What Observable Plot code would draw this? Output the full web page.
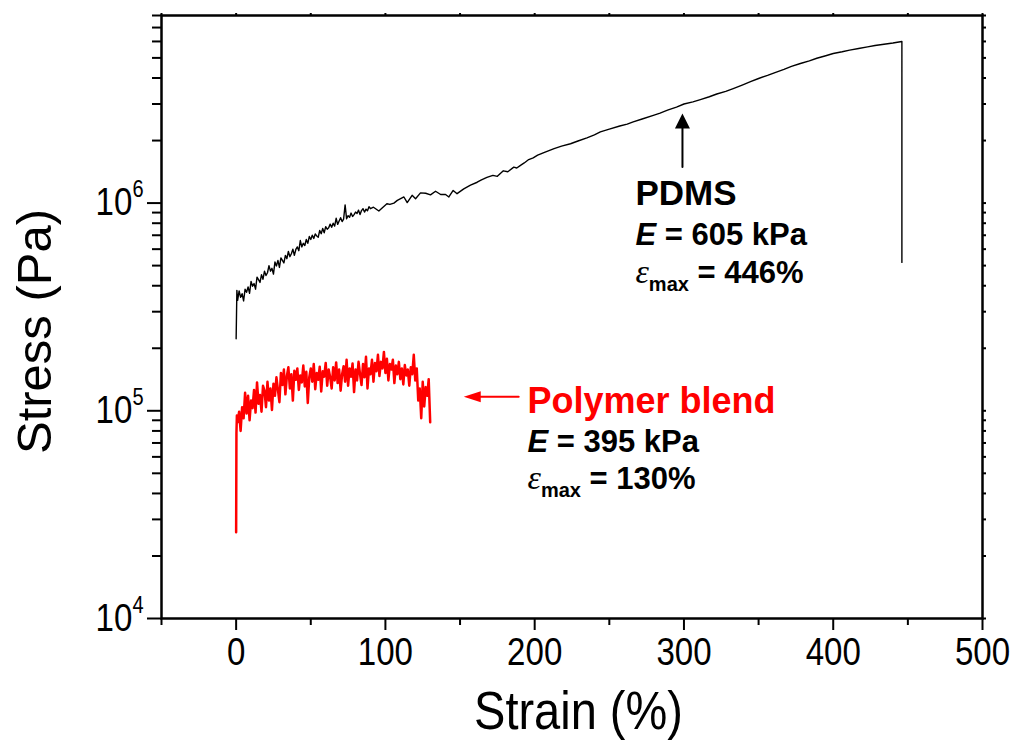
<!DOCTYPE html>
<html><head><meta charset="utf-8">
<script src="https://cdn.jsdelivr.net/npm/d3@7"></script>
<script src="https://cdn.jsdelivr.net/npm/@observablehq/plot@0.6"></script>
<style>body{margin:0;background:#fff;} svg{display:block}</style>
</head><body><div id="chart"></div>
<script>
// PDMS curve: [strain %, stress kPa]
const pdmsCurve = [
[0,222],[0.5,380],[1,340],[2,378],[3,352],[4,366],[5,338],[6,385],[7,372],[8,395],[9,368],[10,420],
[11,398],[12,410],[13,385],[14,440],[15,428],[16,415],[17,452],[18,430],[19,470],[20,448],
[21,462],[22,500],[23,470],[24,485],[25,455],[26,520],[27,498],[28,530],[29,490],[30,545],
[31,530],[32,515],[33,560],[34,540],[35,585],[36,552],[37,570],[38,600],[39,560],[40,598],
[41,615],[42,590],[43,660],[44,615],[45,640],[46,625],[47,668],[48,640],[49,690],[50,668],
[51,700],[52,676],[53,710],[54,695],[55,685],[56,738],[57,712],[58,755],[59,720],[60,770],
[61,748],[62,760],[63,792],[64,765],[65,800],[66,775],[67,845],[68,790],[69,820],[70,850],
[71,815],[72,838],[73,980],[74,840],[75,870],[76,855],[77,895],[78,862],[79,880],[80,905],
[81,890],[82,925],[83,880],[84,920],[85,940],[86,905],[87,935],[88,918],[89,960],[90,940],
[92,955],[95.6,916],[98,950],[101,993],[103,985],[105.7,1000],[108,1030],[112.4,1070],[114.6,1005],
[117.9,1090],[120.2,1050],[123.5,1120],[127,1115],[130.2,1095],[133.6,1140],[137,1100],[140.3,1100],
[142.5,1070],[145.4,1150],[148,1110],[152.5,1170],[157,1220],[161.5,1260],[164,1290],[168,1330],
[172,1360],[175,1345],[179,1430],[182,1415],[186,1490],[188,1475],[190.5,1520],[193,1560],[196,1620],
[199,1650],[202,1700],[207,1760],[213,1830],[218,1880],[224,1930],[229,1990],[235,2060],[240,2130],
[244,2200],[250,2270],[257,2350],[262,2400],[266,2460],[272,2540],[280,2650],[284,2710],[289,2800],
[295,2900],[300,3000],[306,3070],[311,3150],[317,3250],[322,3350],[328,3450],[333,3560],[339,3700],
[345,3850],[350,3980],[356,4120],[361,4250],[367,4400],[372,4550],[378,4700],[384,4840],[389,4980],
[395,5120],[400,5250],[406,5350],[411,5450],[417,5550],[423,5650],[428,5740],[434,5820],[440,5900],
[446,6000],[446,518]
];
// Polymer blend curve: [strain %, stress kPa]
const blendCurve = [
[0,26],[0.2,78],[0.5,95],
[1,88],[2,99],[3,80],[4,104],[5,92],[6,122],[7,97],[8,118],[9,90],[10,112],
[11,103],[12,126],[13,98],[14,137],[15,108],[16,119],[17,99],[18,132],[19,125],[20,104],
[21,138],[22,112],[23,128],[24,101],[25,135],[26,118],[27,145],[28,126],[29,110],[30,152],
[31,133],[32,158],[33,120],[34,147],[35,162],[36,128],[37,150],[38,112],[39,156],[40,141],
[41,160],[42,126],[43,148],[44,137],[45,165],[46,131],[47,154],[48,109],[49,145],[50,160],
[51,138],[52,168],[53,127],[54,152],[55,141],[56,163],[57,124],[58,155],[59,146],[60,170],
[61,132],[62,158],[63,145],[64,128],[65,162],[66,140],[67,171],[68,136],[69,158],[70,125],
[71,150],[72,164],[73,138],[74,176],[75,132],[76,160],[77,146],[78,169],[79,123],[80,158],
[81,140],[82,172],[83,150],[84,133],[85,168],[86,145],[87,182],[88,128],[89,160],[90,150],
[91,176],[92,138],[93,170],[94,155],[95,186],[96,147],[97,172],[98,160],[99,192],[100,152],
[101,178],[102,140],[103,168],[104,158],[105,176],[106,136],[107,165],[108,150],[109,172],[110,142],
[111,160],[112,134],[113,166],[114,148],[115,158],[116,132],[117,162],[118,150],[119,186],[120,140],
[121,160],[122,112],[123,128],[124,92],[125,138],[126,105],[127,130],[128,118],[129,142],[130,88]
];

const xMajorTicks = [0, 100, 200, 300, 400, 500];
const xMinorTicks = [-50, 50, 150, 250, 350, 450];
const yMajorTicks = [1e4, 1e5, 1e6];
const yMinorTicks = [2e4,3e4,4e4,5e4,6e4,7e4,8e4,9e4,2e5,3e5,4e5,5e5,6e5,7e5,8e5,9e5,2e6,3e6,4e6,5e6,6e6,7e6,8e6];
const xTitle = "Strain (%)";
const yTitle = "Stress (Pa)";

const pdmsNoteLines = ["PDMS", "E = 605 kPa", "ε_max = 446%"];
const pdmsNoteStrain = 267.5;
const pdmsNoteStress = [1.104e6, 6.98e5, 4.58e5];
const blendNoteLines = ["Polymer blend", "E = 395 kPa", "ε_max = 130%"];
const blendNoteStrain = 195.2;
const blendNoteStress = [1.113e5, 7.10e4, 4.71e4];

// arrows: tail -> tip (strain, stress Pa)
const pdmsArrow = {x1: 299, y1: 1.49e6, x2: 299, y2: 2.7e6};
const blendArrow = {x1: 189.3, y1: 1.17e5, x2: 152.5, y2: 1.17e5};

const headUp = {draw(ctx){ctx.moveTo(0,0);ctx.lineTo(-7.5,15);ctx.lineTo(7.5,15);ctx.closePath();}};
const headLeft = {draw(ctx){ctx.moveTo(0,0);ctx.lineTo(17,-5.5);ctx.lineTo(17,5.5);ctx.closePath();}};

const chart = Plot.plot({
  width: 1016,
  height: 740,
  marginLeft: 161,
  marginRight: 34,
  marginTop: 15,
  marginBottom: 122,
  style: {fontFamily: "'Liberation Sans', Arial, sans-serif", fontSize: "38px", background: "white", color: "black"},
  x: {domain: [-50, 500]},
  y: {type: "log", domain: [1e4, 8e6]},
  marks: [
    Plot.frame({strokeWidth: 2.5}),
    Plot.axisX({ticks: xMajorTicks, tickSize: 12, tickPadding: 8, strokeWidth: 2, fontSize: 38, label: null, tickFormat: d => String(d)}),
    Plot.axisX({ticks: xMinorTicks, tickSize: 7, strokeWidth: 2, label: null, tickFormat: () => ""}),
    Plot.axisX({anchor: "top", ticks: xMajorTicks.concat(xMinorTicks), tickSize: 3, strokeWidth: 2, label: null, tickFormat: () => ""}),
    Plot.axisY({ticks: yMajorTicks, tickSize: 14, tickPadding: 4, strokeWidth: 2, fontSize: 38, label: null, tickFormat: d => "10^" + Math.round(Math.log10(d))}),
    Plot.axisY({ticks: yMinorTicks, tickSize: 9, strokeWidth: 2, label: null, tickFormat: () => ""}),
    Plot.axisY({anchor: "right", ticks: yMajorTicks.concat(yMinorTicks), tickSize: 3, strokeWidth: 2, label: null, tickFormat: () => ""}),
    Plot.line(pdmsCurve, {x: d => d[0], y: d => d[1] * 1000, stroke: "black", strokeWidth: 1.4}),
    Plot.line(blendCurve, {x: d => d[0], y: d => d[1] * 1000, stroke: "#ff0000", strokeWidth: 2.5}),
    Plot.arrow([pdmsArrow], {x1: "x1", y1: "y1", x2: "x2", y2: "y2", stroke: "black", strokeWidth: 2, headLength: 0, insetEnd: 12}),
    Plot.dot([pdmsArrow], {x: "x2", y: "y2", symbol: headUp, fill: "black", stroke: "none"}),
    Plot.arrow([blendArrow], {x1: "x1", y1: "y1", x2: "x2", y2: "y2", stroke: "#ff0000", strokeWidth: 2, headLength: 0, insetEnd: 14}),
    Plot.dot([blendArrow], {x: "x2", y: "y2", symbol: headLeft, fill: "#ff0000", stroke: "none"}),
    Plot.text(pdmsNoteLines.slice(0, 1), {x: () => pdmsNoteStrain, y: (d, i) => pdmsNoteStress[i], text: d => d, textAnchor: "start", fontSize: 35, fontWeight: "bold", fill: "black"}),
    Plot.text(pdmsNoteLines.slice(1), {x: () => pdmsNoteStrain, y: (d, i) => pdmsNoteStress[i + 1], text: d => d, textAnchor: "start", fontSize: 31, fontWeight: "bold", fill: "black"}),
    Plot.text(blendNoteLines.slice(0, 1), {x: () => blendNoteStrain, y: (d, i) => blendNoteStress[i], text: d => d, textAnchor: "start", fontSize: 36, fontWeight: "bold", fill: "#ff0000"}),
    Plot.text(blendNoteLines.slice(1), {x: () => blendNoteStrain, y: (d, i) => blendNoteStress[i + 1], text: d => d, textAnchor: "start", fontSize: 31, fontWeight: "bold", fill: "black"}),
    Plot.text([xTitle], {frameAnchor: "bottom", text: d => d, lineAnchor: "top", fontSize: 54, dx: 6.5, dy: 72}),
    Plot.text([yTitle], {frameAnchor: "left", text: d => d, textAnchor: "middle", rotate: -90, fontSize: 49, dx: -126.5, dy: 14.5})
  ]
});
document.getElementById("chart").appendChild(chart);

// --- post-processing of text styling (superscripts, italics, subscripts, narrow axis font)
const NS = "http://www.w3.org/2000/svg";
function squeeze(el, sx) {
  const t = el.getAttribute("transform");
  if (t) el.setAttribute("transform", t + ` scale(${sx},1)`);
  else {
    const x = +el.getAttribute("x") || 0, y = +el.getAttribute("y") || 0;
    el.removeAttribute("x"); el.removeAttribute("y");
    el.setAttribute("transform", `translate(${x},${y}) scale(${sx},1)`);
  }
}
function tspan(parent, txt, attrs) {
  const ts = document.createElementNS(NS, "tspan");
  for (const k in attrs) ts.setAttribute(k, attrs[k]);
  ts.textContent = txt;
  parent.appendChild(ts);
  return ts;
}
chart.querySelectorAll('g[aria-label="y-axis tick label"] text').forEach(el => {
  const m = /^10\^(\d+)$/.exec(el.textContent);
  if (m) { el.textContent = "10"; tspan(el, m[1], {"font-size": "23", dy: "-18"}); }
});
chart.querySelectorAll('g[aria-label="x-axis tick label"] text, g[aria-label="y-axis tick label"] text').forEach(el => squeeze(el, 0.87));
chart.querySelectorAll("text").forEach(el => {
  const s = el.textContent;
  let m;
  if (s === xTitle) squeeze(el, 0.87);
  else if ((m = /^E( = .*)$/.exec(s))) {
    el.textContent = "";
    tspan(el, "E", {"font-style": "italic"});
    tspan(el, m[1], {});
  } else if ((m = /^ε_max( = .*)$/.exec(s))) {
    el.textContent = "";
    tspan(el, "ε", {"font-style": "italic", "font-family": "'Liberation Serif', 'DejaVu Serif', serif", "font-weight": "normal", "font-size": "34"});
    tspan(el, "max", {"font-size": "20", dy: "8"});
    tspan(el, m[1], {dy: "-8"});
  }
});
</script>
</body></html>
